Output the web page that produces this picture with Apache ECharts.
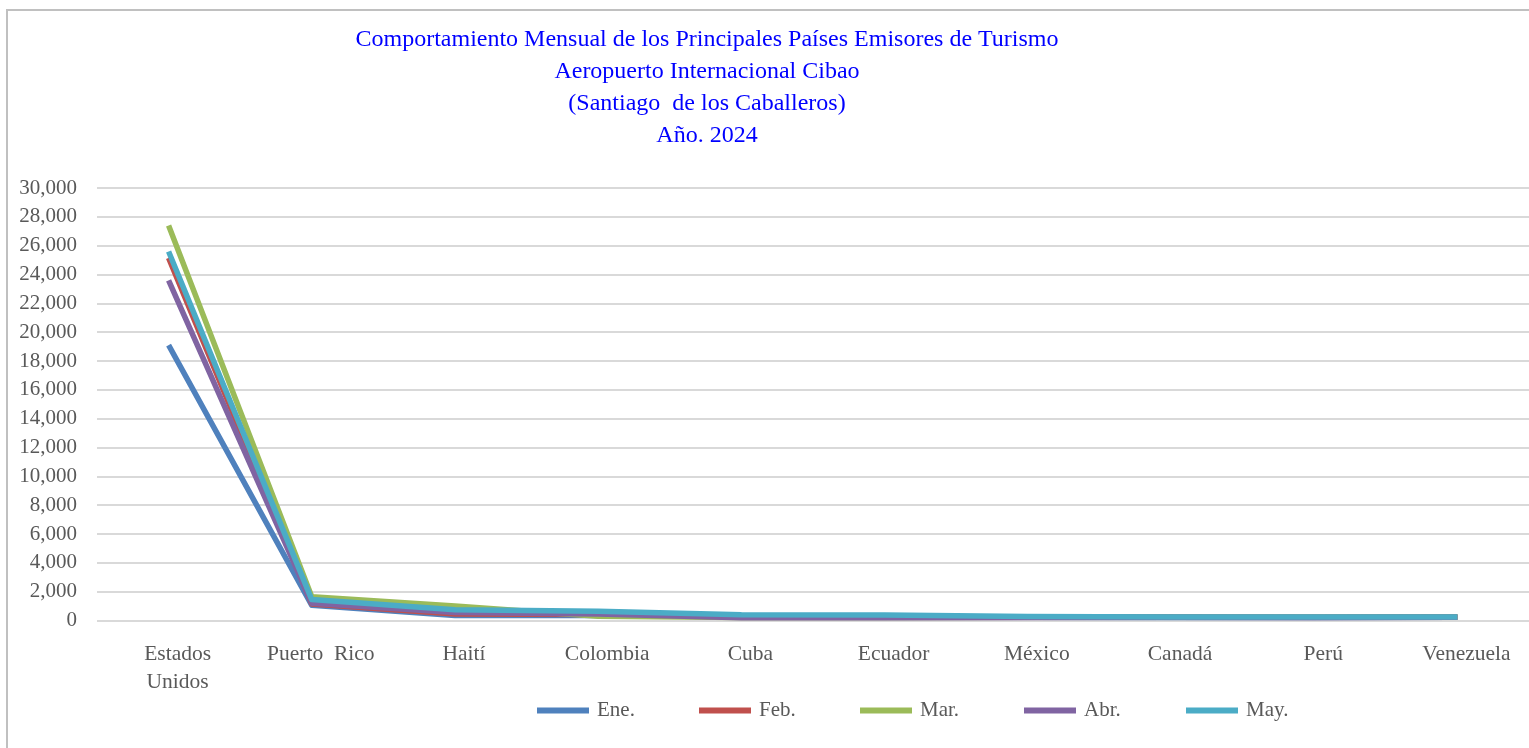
<!DOCTYPE html>
<html>
<head>
<meta charset="utf-8">
<script src="https://cdn.jsdelivr.net/npm/echarts@6/dist/echarts.min.js"></script>
<style>
html,body{margin:0;padding:0;background:#fff;}
#c{width:1529px;height:748px;}
</style>
</head>
<body>
<div id="c"></div>
<script>
var categories = ['Estados\nUnidos', 'Puerto  Rico', 'Haití', 'Colombia', 'Cuba', 'Ecuador', 'México', 'Canadá', 'Perú', 'Venezuela'];
var ene = [19100, 1050, 350, 350, 300, 250, 220, 210, 210, 220];
var feb = [25150, 1150, 450, 420, 250, 220, 230, 230, 220, 240];
var mar = [27400, 1650, 1000, 300, 200, 200, 230, 240, 230, 250];
var abr = [23600, 1200, 550, 450, 190, 190, 200, 220, 210, 230];
var may = [25600, 1450, 750, 650, 400, 380, 270, 250, 250, 250];
var yTicks = { min: 0, max: 30000, interval: 2000 };
var seriesNames = ['Ene.', 'Feb.', 'Mar.', 'Abr.', 'May.'];
var seriesData = [ene, feb, mar, abr, may];
var colors = ['#4F81BD', '#C0504D', '#9BBB59', '#8064A2', '#4BACC6'];

var font = '"Liberation Serif", "Times New Roman", serif';
var legendLefts = [537, 699, 860, 1024, 1186];
var chart = echarts.init(document.getElementById('c'));
chart.setOption({
  animation: false,
  color: colors,
  title: {
    text: 'Comportamiento Mensual de los Principales Países Emisores de Turismo\nAeropuerto Internacional Cibao\n(Santiago  de los Caballeros)\nAño. 2024',
    left: 707,
    textAlign: 'center',
    top: 24,
    padding: 0,
    textStyle: { fontFamily: font, fontSize: 24, fontWeight: 'normal', color: '#0000FF', lineHeight: 32 }
  },
  graphic: [{
    type: 'rect',
    shape: { x: 7, y: 10, width: 1600, height: 800 },
    style: { fill: 'none', stroke: '#C0C0C0', lineWidth: 2 },
    silent: true, z: -10
  }],
  legend: seriesNames.map(function (n, i) {
    return {
      left: legendLefts[i],
      top: 700,
      icon: 'rect',
      itemWidth: 52,
      itemHeight: 6,
      padding: 0,
      data: [n],
      textStyle: { fontFamily: font, fontSize: 21, color: '#595959', padding: [6, 0, 0, 3] }
    };
  }),
  grid: { left: 97, right: -10, top: 188, bottom: 127.5, containLabel: false },
  xAxis: {
    type: 'category',
    data: categories,
    boundaryGap: true,
    axisLine: { show: false },
    axisTick: { show: false },
    axisLabel: { fontFamily: font, fontSize: 21.5, color: '#595959', margin: 20, lineHeight: 28, interval: 0, padding: [0, 0, 0, 18] }
  },
  yAxis: {
    type: 'value',
    min: yTicks.min,
    max: yTicks.max,
    interval: yTicks.interval,
    axisLine: { show: false },
    axisTick: { show: false },
    splitLine: { lineStyle: { color: '#D9D9D9', width: 2 } },
    axisLabel: {
      fontFamily: font, fontSize: 21, color: '#595959', margin: 20,
      formatter: function (v) { return v.toLocaleString('en-US'); }
    }
  },
  series: seriesData.map(function (d, i) {
    return {
      name: seriesNames[i],
      type: 'line',
      data: d,
      showSymbol: false,
      symbol: 'none',
      lineStyle: { width: 5.5, color: colors[i], join: 'round' },
      itemStyle: { color: colors[i] }
    };
  })
});
</script>
</body>
</html>
